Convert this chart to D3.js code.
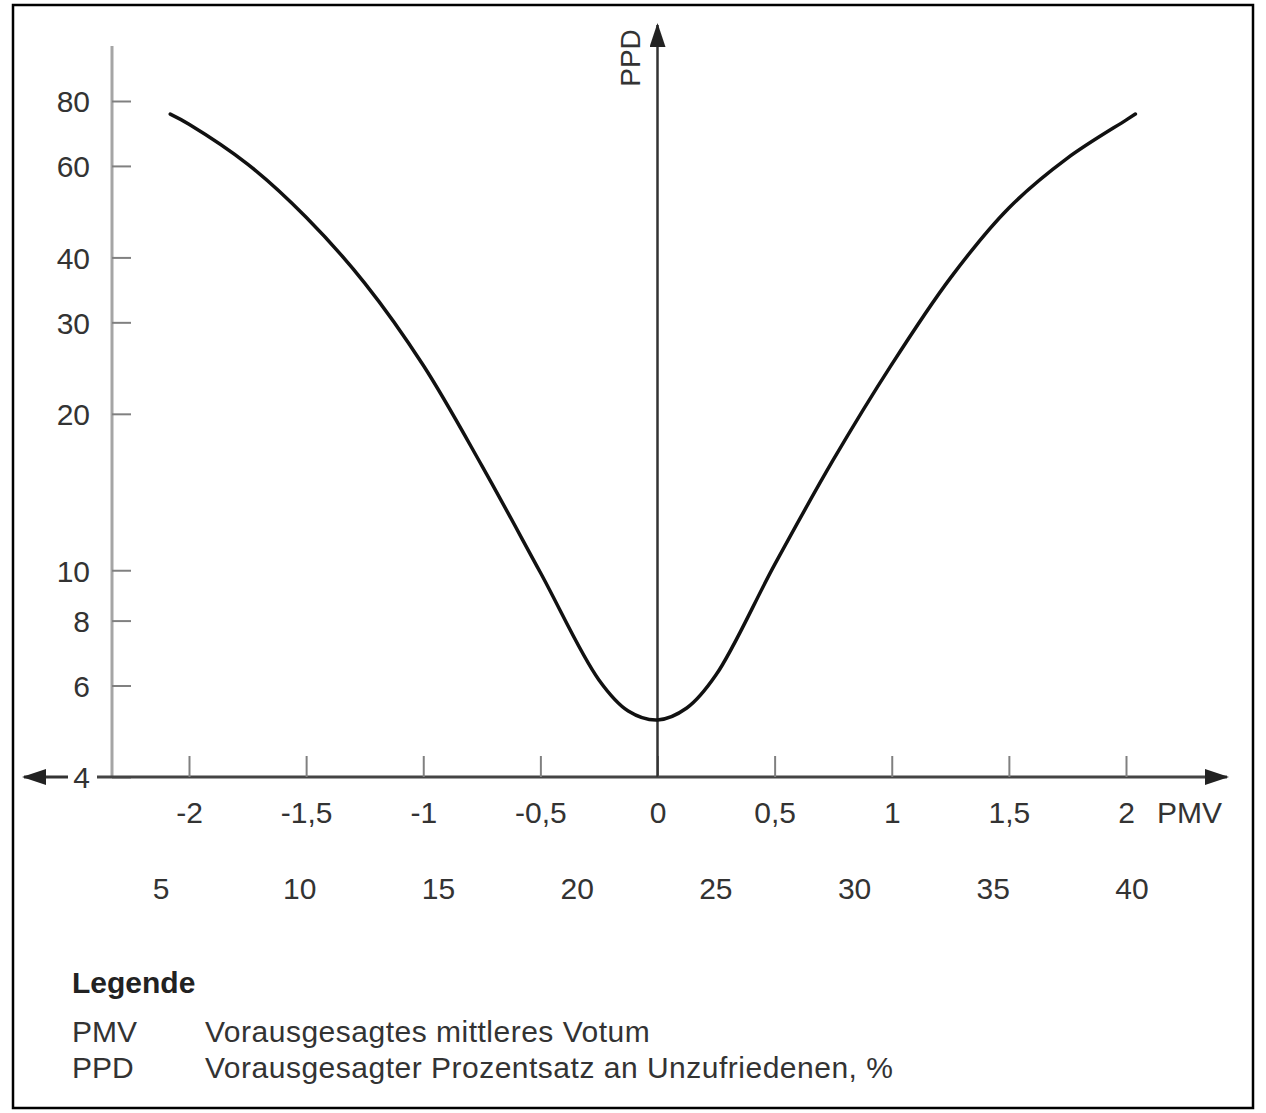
<!DOCTYPE html>
<html>
<head>
<meta charset="utf-8">
<script src="https://cdn.jsdelivr.net/npm/d3@7"></script>
<style>
  html, body { margin: 0; padding: 0; background: #fff; }
  svg text { font-family: "Liberation Sans", Arial, sans-serif; }
</style>
</head>
<body>
<svg id="chart" width="1266" height="1113"></svg>
<script>
// PMV ticks and their labels (German decimal comma)
const pmvTicks = [-2, -1.5, -1, -0.5, 0, 0.5, 1, 1.5, 2];
const pmvLabels = ["-2", "-1,5", "-1", "-0,5", "0", "0,5", "1", "1,5", "2"];
// second row under the PMV axis
const tempTicks = [5, 10, 15, 20, 25, 30, 35, 40];
// PPD ticks (log axis)
const ppdTicks = [4, 6, 8, 10, 20, 30, 40, 60, 80];

// curve
const curvePMV = [-2.08, -2, -1.75, -1.5, -1.25, -1, -0.75, -0.5, -0.25, -0.125, 0,
                  0.125, 0.25, 0.5, 0.75, 1, 1.25, 1.5, 1.75, 2, 2.04];
const curvePPD = [75.5, 72.2, 60.5, 47.8, 35.7, 24.8, 15.9, 9.9, 6.15, 5.36, 5.15,
                  5.43, 6.29, 10.25, 16.3, 24.9, 36.5, 49.8, 62.1, 73.5, 75.5];

const svg = d3.select("#chart");
const fontSize = 30;
const textColor = "#333";

// frame
svg.append("rect")
  .attr("x", 13).attr("y", 5)
  .attr("width", 1240).attr("height", 1103)
  .attr("fill", "none")
  .attr("stroke", "#000")
  .attr("stroke-width", 2.5);

const xScale = d3.scaleLinear().domain([-2, 2]).range([189, 1126]);
const yScale = d3.scaleLog().domain([4, 80]).range([777, 101]);
const tScale = d3.scaleLinear().domain([5, 40]).range([161, 1132]);

const axisY = yScale(4);
const yAxisX = 112;

// arrow heads
const defs = svg.append("defs");
defs.append("marker")
  .attr("id", "arrow")
  .attr("viewBox", "0 0 24 16")
  .attr("refX", 22).attr("refY", 8)
  .attr("markerWidth", 24).attr("markerHeight", 16)
  .attr("markerUnits", "userSpaceOnUse")
  .attr("orient", "auto")
  .append("path")
  .attr("d", "M0,0 L24,8 L0,16 Z")
  .attr("fill", "#222");

// gray left axis line
svg.append("line")
  .attr("x1", yAxisX).attr("x2", yAxisX)
  .attr("y1", 46).attr("y2", axisY)
  .attr("stroke", "#a5a5a5")
  .attr("stroke-width", 3);

// left axis ticks + labels
const yAxis = svg.append("g")
  .attr("transform", `translate(${yAxisX},0)`)
  .call(d3.axisLeft(yScale).tickValues(ppdTicks).tickFormat(d3.format("d")).tickSize(-19).tickPadding(22));
yAxis.select(".domain").remove();
yAxis.selectAll(".tick line").attr("stroke", "#808080").attr("stroke-width", 2);
yAxis.selectAll("text")
  .attr("font-size", fontSize)
  .attr("fill", textColor)
  .attr("dy", "0.36em");

// little arrow pointing left, next to the "4"
svg.append("line")
  .attr("x1", 68).attr("x2", 24)
  .attr("y1", axisY).attr("y2", axisY)
  .attr("stroke", "#333")
  .attr("stroke-width", 3)
  .attr("marker-end", "url(#arrow)");

// PMV axis
svg.append("line")
  .attr("x1", 97).attr("x2", 1227)
  .attr("y1", axisY).attr("y2", axisY)
  .attr("stroke", "#444")
  .attr("stroke-width", 3)
  .attr("marker-end", "url(#arrow)");

const xAxis = svg.append("g")
  .attr("transform", `translate(0,${axisY})`)
  .call(d3.axisBottom(xScale).tickValues(pmvTicks).tickFormat((d, i) => pmvLabels[i]).tickSize(-21));
xAxis.select(".domain").remove();
xAxis.selectAll(".tick line").attr("stroke", "#808080").attr("stroke-width", 2);
xAxis.selectAll("text")
  .attr("font-size", fontSize)
  .attr("fill", textColor)
  .attr("y", 35)
  .attr("dy", "0.36em");

svg.append("text")
  .attr("x", 1157).attr("y", axisY + 35)
  .attr("dy", "0.36em")
  .attr("font-size", fontSize)
  .attr("fill", textColor)
  .text("PMV");

// second scale row
svg.append("g")
  .selectAll("text")
  .data(tempTicks)
  .join("text")
  .attr("x", d => tScale(d))
  .attr("y", axisY + 111)
  .attr("dy", "0.36em")
  .attr("text-anchor", "middle")
  .attr("font-size", fontSize)
  .attr("fill", textColor)
  .text(d => d);

// PPD axis through PMV = 0
svg.append("line")
  .attr("x1", xScale(0)).attr("x2", xScale(0))
  .attr("y1", axisY).attr("y2", 25)
  .attr("stroke", "#333")
  .attr("stroke-width", 2.5)
  .attr("marker-end", "url(#arrow)");

svg.append("text")
  .attr("transform", `translate(${xScale(0) - 28},58) rotate(-90)`)
  .attr("text-anchor", "middle")
  .attr("dy", "0.36em")
  .attr("font-size", 28)
  .attr("fill", textColor)
  .text("PPD");

// curve
const line = d3.line()
  .x((d, i) => xScale(curvePMV[i]))
  .y(d => yScale(d))
  .curve(d3.curveCatmullRom.alpha(0.5));

svg.append("path")
  .datum(curvePPD)
  .attr("fill", "none")
  .attr("stroke", "#111")
  .attr("stroke-width", 3.5)
  .attr("stroke-linecap", "round")
  .attr("d", line);

// legend
svg.append("text")
  .attr("x", 72).attr("y", 993)
  .attr("font-size", fontSize)
  .attr("font-weight", "bold")
  .attr("fill", "#222")
  .text("Legende");

const legendKeys = ["PMV", "PPD"];
const legendTexts = ["Vorausgesagtes mittleres Votum", "Vorausgesagter Prozentsatz an Unzufriedenen, %"];
const legend = svg.append("g")
  .selectAll("g")
  .data(legendKeys)
  .join("g")
  .attr("transform", (d, i) => `translate(0,${1042 + i * 36})`);
legend.append("text")
  .attr("x", 72)
  .attr("font-size", fontSize)
  .attr("fill", textColor)
  .text(d => d);
legend.append("text")
  .attr("x", 205)
  .attr("font-size", fontSize)
  .attr("letter-spacing", 0.5)
  .attr("fill", textColor)
  .text((d, i) => legendTexts[i]);
</script>
</body>
</html>
